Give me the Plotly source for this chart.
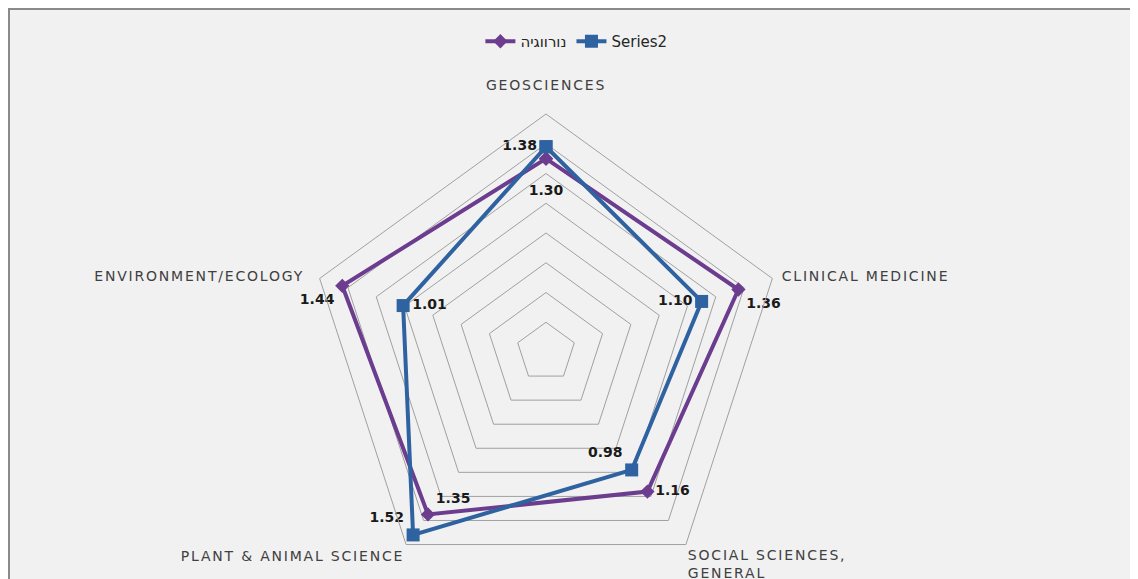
import plotly.graph_objects as go

categories = ["GEOSCIENCES", "CLINICAL MEDICINE", "SOCIAL SCIENCES, GENERAL",
              "PLANT & ANIMAL SCIENCE", "ENVIRONMENT/ECOLOGY"]
category_lines = [["GEOSCIENCES", "\u00a0"], ["\u00a0CLINICAL MEDICINE"],
                  ["SOCIAL SCIENCES,", "GENERAL"], ["PLANT & ANIMAL SCIENCE"],
                  ["ENVIRONMENT/ECOLOGY\u00a0\u00a0"]]
series1_name = "נורווגיה"
series1_values = [1.30, 1.36, 1.16, 1.35, 1.44]
series2_name = "Series2"
series2_values = [1.38, 1.10, 0.98, 1.52, 1.01]
radial_ticks = [0.2, 0.4, 0.6, 0.8, 1.0, 1.2, 1.4, 1.6]

# page has an 8px body margin, so figure coords = page coords - 8
W, H = 1130, 600
cx, cy, R = 538, 344, 238

PURPLE = "#6c3d8f"
BLUE = "#2f62a0"
LABEL_FONT = dict(family="DejaVu Sans", size=14, color="#1a1a1a", weight="bold")


def closed(v):
    return list(v) + [v[0]]


def spaced(lines):
    return "<br>".join(f"<span style='letter-spacing:1.8px'>{ln}</span>" for ln in lines)


fig = go.Figure()
fig.add_trace(go.Scatterpolar(
    r=closed(series1_values), theta=closed(categories), name=series1_name,
    mode="lines+markers+text",
    line=dict(color=PURPLE, width=4),
    marker=dict(symbol="diamond", size=11, color=PURPLE),
    text=["<br>" + f"{series1_values[0]:.2f}"] + [f"{v:.2f}" for v in series1_values[1:]] + [""],
    textposition=["bottom center", "bottom right", "middle right", "top right", "bottom left", "middle center"],
    textfont=LABEL_FONT,
))
fig.add_trace(go.Scatterpolar(
    r=closed(series2_values), theta=closed(categories), name=series2_name,
    mode="lines+markers+text",
    line=dict(color=BLUE, width=4),
    marker=dict(symbol="square", size=13, color=BLUE),
    text=[f"{v:.2f}" for v in series2_values] + [""],
    textposition=["middle left", "middle left", "top left", "top left", "middle right", "middle center"],
    textfont=LABEL_FONT,
))

fig.update_layout(
    width=W, height=H,
    margin=dict(l=0, r=0, t=0, b=0),
    paper_bgcolor="#ffffff",
    font=dict(family="DejaVu Sans", color="#404040"),
    showlegend=True,
    legend=dict(orientation="h", x=0.503, xanchor="center", y=1 - 17 / H, yanchor="top",
                font=dict(size=15, color="#262626"), bgcolor="rgba(0,0,0,0)"),
    polar=dict(
        domain=dict(x=[(cx - R) / W, (cx + R) / W], y=[1 - (cy + R) / H, 1 - (cy - R) / H]),
        gridshape="linear",
        bgcolor="rgba(0,0,0,0)",
        angularaxis=dict(direction="clockwise", rotation=90, showgrid=False,
                         categoryorder="array", categoryarray=categories,
                         tickmode="array", tickvals=categories,
                         ticktext=[spaced(l) for l in category_lines],
                         showline=True, linecolor="#a0a0a0", linewidth=1, ticks="",
                         tickfont=dict(family="DejaVu Sans", size=14, color="#404040")),
        radialaxis=dict(range=[0, radial_ticks[-1]], tickvals=radial_ticks, showticklabels=False,
                        ticks="", showline=False, gridcolor="#a0a0a0", gridwidth=1),
    ),
    shapes=[dict(type="rect", xref="paper", yref="paper",
                 x0=1 / W, x1=1 + 10 / W, y0=-0.1, y1=1 - 1 / H,
                 line=dict(color="#8a8a8a", width=2), fillcolor="#f1f1f1", layer="below")],
)

fig.write_html("out.html")
